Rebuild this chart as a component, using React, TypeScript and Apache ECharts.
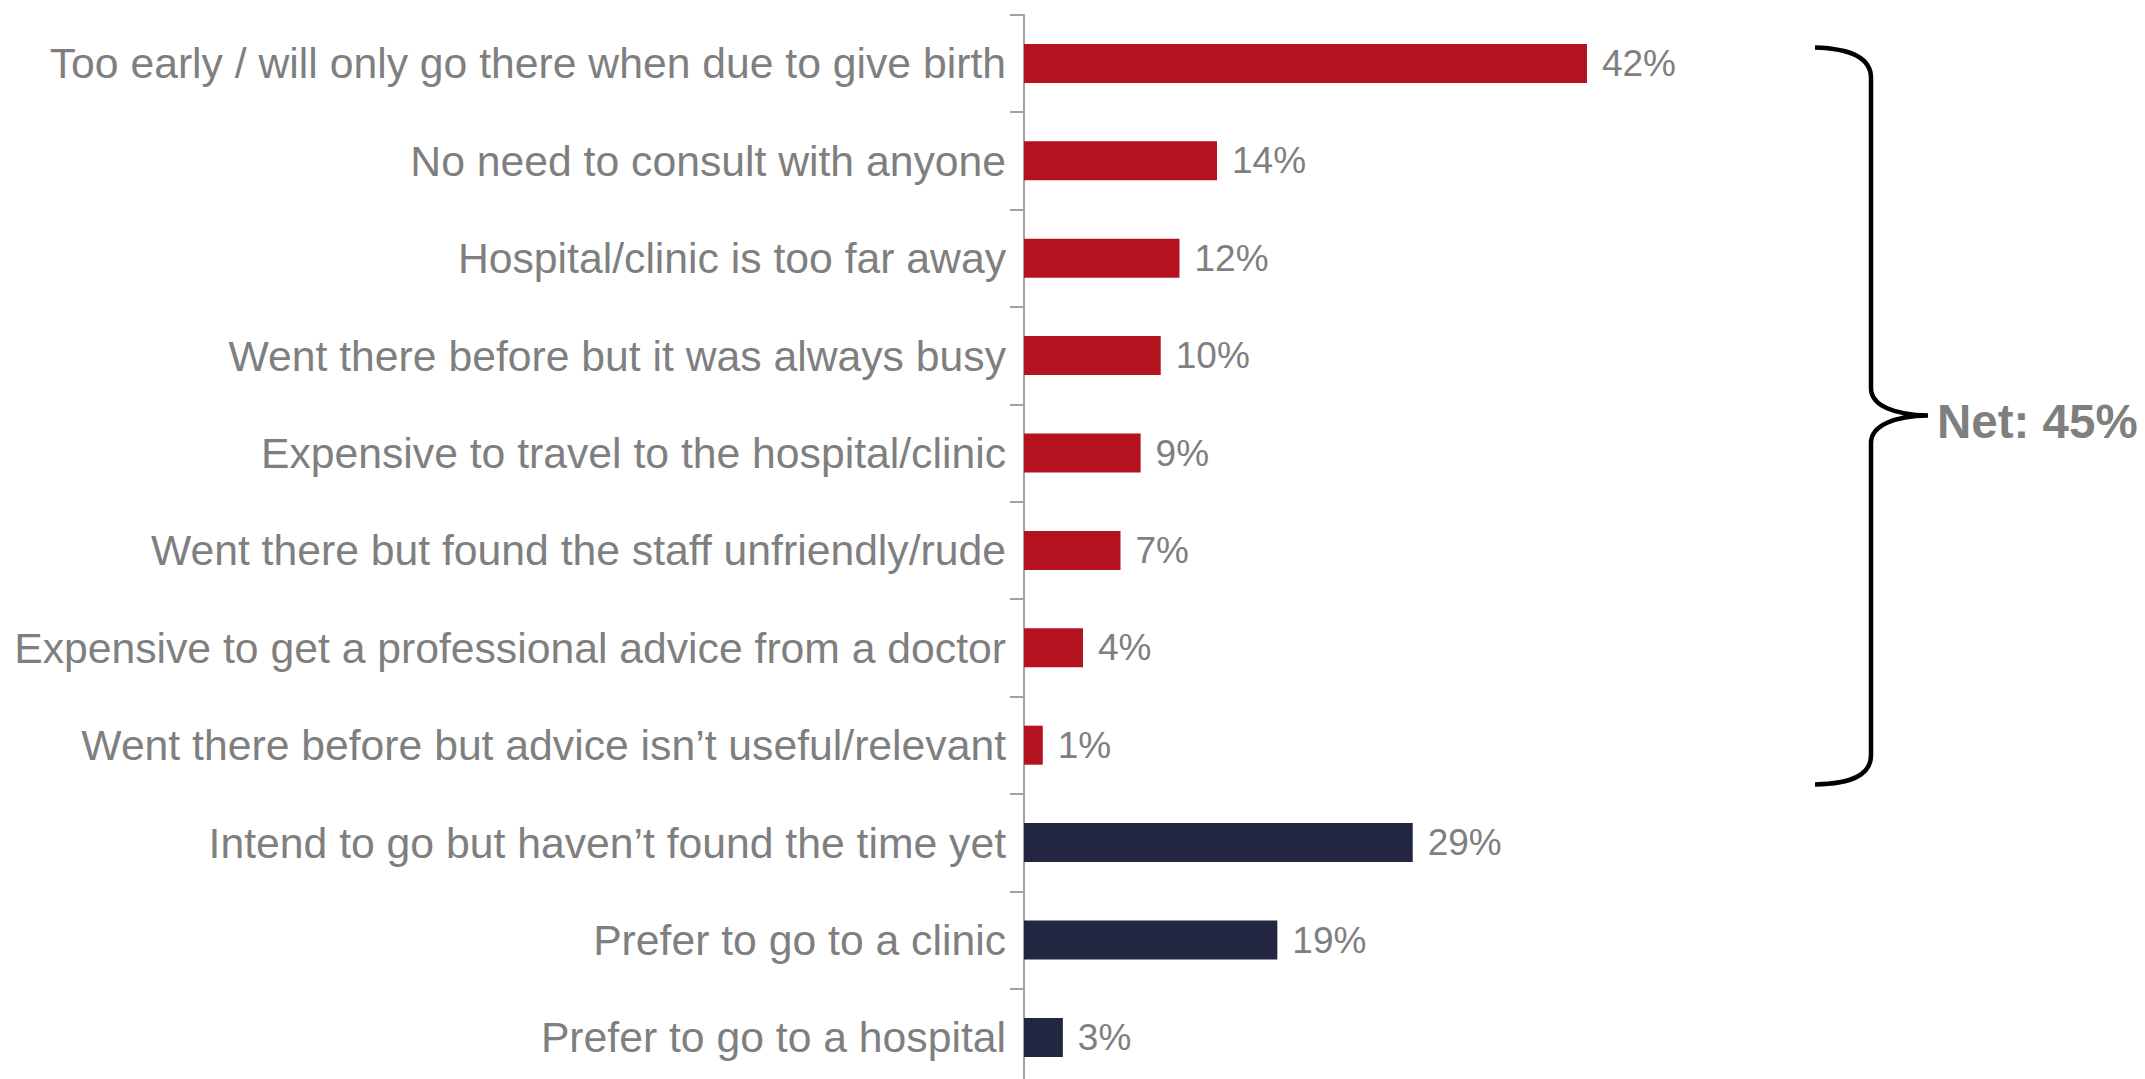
import React, { useEffect, useRef } from "react";
import * as echarts from "echarts";

const categories = [
  "Too early / will only go there when due to give birth",
  "No need to consult with anyone",
  "Hospital/clinic is too far away",
  "Went there before but it was always busy",
  "Expensive to travel to the hospital/clinic",
  "Went there but found the staff unfriendly/rude",
  "Expensive to get a professional advice from a doctor",
  "Went there before but advice isn\u2019t useful/relevant",
  "Intend to go but haven\u2019t found the time yet",
  "Prefer to go to a clinic",
  "Prefer to go to a hospital",
];

const values = [42, 14.4, 11.6, 10.2, 8.7, 7.2, 4.4, 1.4, 29, 18.9, 2.9];

const groups = ["net", "net", "net", "net", "net", "net", "net", "net", "other", "other", "other"];

const groupColors: Record<string, string> = { net: "#B5121F", other: "#222640" };

const netLabel = "Net: 45%";

const FONT = "'Liberation Sans', Arial, Helvetica, sans-serif";

echarts.graphic.registerShape(
  "brace",
  echarts.graphic.extendPath(
    "M1815 47.5 C1852 48.5 1871 58 1871 78 L1871 388 C1871 406 1895 415 1928 415.5 C1895 416 1871 425 1871 443 L1871 755 C1871 775 1852 783.5 1815 784.5",
    {}
  )
);

export default function App() {
  const ref = useRef<HTMLDivElement>(null);

  useEffect(() => {
    if (!ref.current) return;
    const chart = echarts.init(ref.current, undefined, { renderer: "svg" });
    chart.setOption({
      animation: false,
      backgroundColor: "#ffffff",
      textStyle: { fontFamily: FONT },
      grid: { left: 1024, top: 14.7, width: 670.2, height: 1071.4, containLabel: false },
      xAxis: {
        type: "value",
        min: 0,
        max: 50,
        show: false,
      },
      yAxis: {
        type: "category",
        inverse: true,
        data: categories,
        axisLine: { show: true, lineStyle: { color: "#a3a3a3", width: 2 } },
        axisTick: { show: true, length: 14, lineStyle: { color: "#a3a3a3", width: 2 } },
        axisLabel: {
          color: "#7f7f7f",
          fontSize: 42.7,
          margin: 18,
          fontFamily: FONT,
          padding: [5, 0, 0, 0],
        },
        splitLine: { show: false },
      },
      series: [
        {
          type: "bar",
          barWidth: 39,
          data: values.map((v, i) => ({ value: v, itemStyle: { color: groupColors[groups[i]] } })),
          label: {
            show: true,
            position: "right",
            distance: 15,
            color: "#7f7f7f",
            fontSize: 37,
            fontFamily: FONT,
            padding: [3, 0, 0, 0],
            formatter: (p: any) => `${Math.round(p.value)}%`,
          },
        },
      ],
      graphic: [
        {
          type: "brace",
          x: 0,
          y: 0,
          scaleX: 1,
          scaleY: 1,
          style: { fill: "none", stroke: "#000000", lineWidth: 4.5, lineCap: "butt" },
        },
        {
          type: "text",
          x: 1937,
          y: 421,
          style: {
            text: netLabel,
            fill: "#7f7f7f",
            fontSize: 47.5,
            fontWeight: "bold",
            fontFamily: FONT,
            textAlign: "left",
            textVerticalAlign: "middle",
          },
        },
      ],
    });
    return () => chart.dispose();
  }, []);

  return (
    <div style={{ position: "fixed", left: 0, top: 0, width: 2145, height: 1079, overflow: "hidden", background: "#fff" }}>
      <div ref={ref} style={{ width: 2145, height: 1100 }} />
    </div>
  );
}
